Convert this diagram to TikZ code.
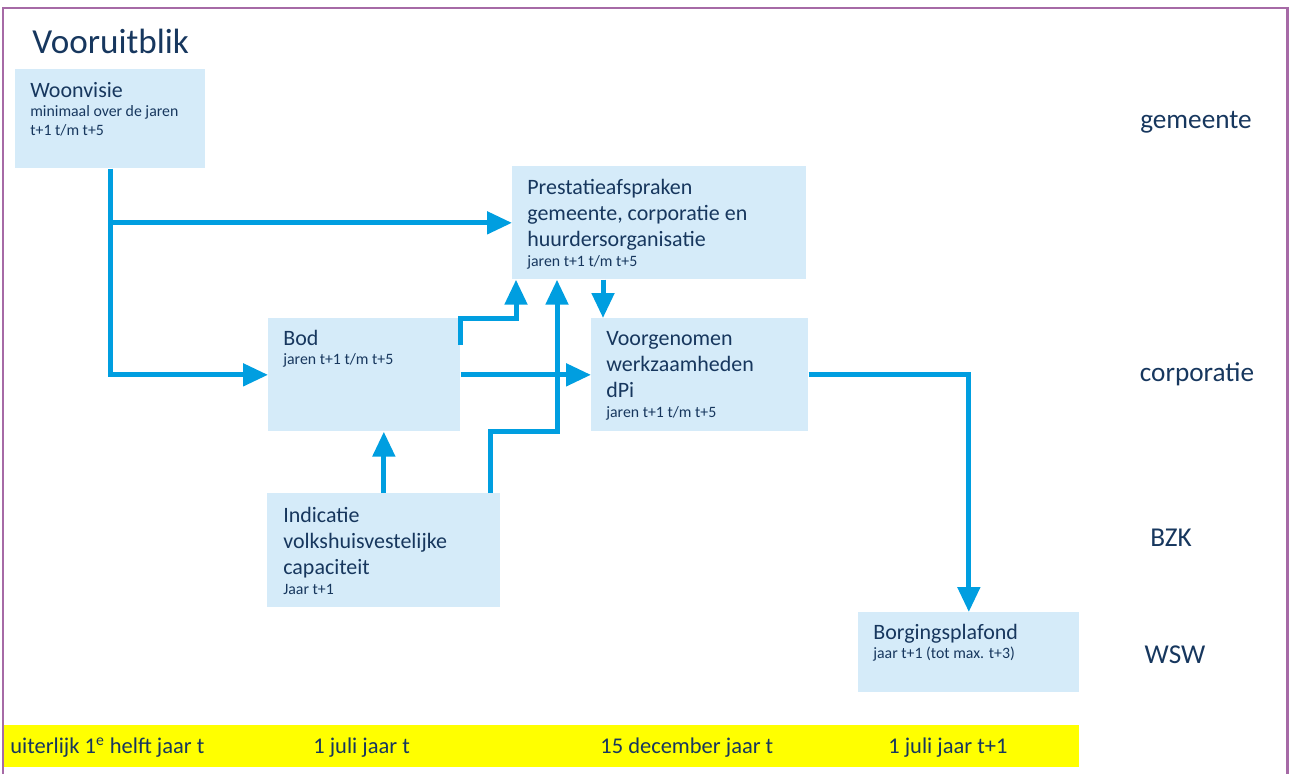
\documentclass[tikz,border=0pt]{standalone}
\usepackage{fontspec}
\setmainfont{Carlito}
\usetikzlibrary{arrows.meta,calc,positioning}
\definecolor{boxblue}{RGB}{213,235,249}
\definecolor{flowblue}{RGB}{0,158,224}
\definecolor{inkblue}{RGB}{23,55,94}
\definecolor{framepurple}{RGB}{166,106,166}
\definecolor{baryellow}{RGB}{255,255,0}
\newcommand{\boxhd}{\fontsize{12.5}{15}\selectfont}
\newcommand{\boxsm}{\fontsize{9}{11}\selectfont}
\newcommand{\plpar}[1]{\parbox[t]{6cm}{\raggedright #1}}
\tikzset{
  plbox/.style={fill=boxblue,inner sep=0pt,anchor=north west},
  pltext/.style={anchor=base west,inner sep=0pt,text=inkblue},
  flow/.style={-{Triangle[length=5mm,width=4.4mm]},line width=1mm,draw=flowblue},
  actor/.style={anchor=base,inner sep=0pt,text=inkblue,
    font=\fontsize{15.5}{18}\selectfont},
  datelbl/.style={anchor=base west,inner sep=0pt,text=inkblue,
    font=\fontsize{12.8}{15}\selectfont},
}

\begin{document}
\begin{tikzpicture}[x=0.02cm,y=-0.02cm]
  \useasboundingbox (0,0) rectangle (1293,774);
  \draw[framepurple,line width=0.6mm] (3,774) -- (3,8) -- (1287,8) -- (1287,774);
  \node[pltext,font=\fontsize{20}{24}\selectfont] (title) at (32,53) {Vooruitblik};

  % boxes
  \node[plbox,minimum width=3.8cm,minimum height=1.98cm] (woon) at (15,69) {};
  \node[plbox,minimum width=5.88cm,minimum height=2.26cm] (prest) at (512,166) {};
  \node[plbox,minimum width=3.84cm,minimum height=2.26cm] (bod) at (268,318) {};
  \node[plbox,minimum width=4.34cm,minimum height=2.26cm] (voorg) at (591,318) {};
  \node[plbox,minimum width=4.66cm,minimum height=2.28cm] (indic) at (267,493) {};
  \node[plbox,minimum width=4.42cm,minimum height=1.6cm] (borg) at (858,612) {};

  % box texts
  \node[pltext] (woon-t) at ($(woon.north west)+(15,28)$)
    {\plpar{\boxhd Woonvisie\par\boxsm minimaal over de jaren\par t+1 t/m t+5}};
  \node[pltext] (prest-t) at ($(prest.north west)+(15,28)$)
    {\plpar{\boxhd Prestatieafspraken\par gemeente, corporatie en\par
      huurdersorganisatie\par\boxsm jaren t+1 t/m t+5}};
  \node[pltext] (bod-t) at ($(bod.north west)+(15,27)$)
    {\plpar{\boxhd Bod\par\boxsm jaren t+1 t/m t+5}};
  \node[pltext] (voorg-t) at ($(voorg.north west)+(15,27)$)
    {\plpar{\boxhd Voorgenomen\par werkzaamheden\par dPi\par\boxsm jaren t+1 t/m t+5}};
  \node[pltext] (indic-t) at ($(indic.north west)+(16,29)$)
    {\plpar{\boxhd Indicatie\par volkshuisvestelijke\par capaciteit\par\boxsm Jaar t+1}};
  \node[pltext] (borg-t) at ($(borg.north west)+(15,27)$)
    {\plpar{\boxhd Borgingsplafond\par\boxsm jaar t+1 (tot max. t+3)}};

  % flows
  \draw[flow] (woon.south) |- (bod.west);
  \draw[flow] (woon.south |- prest.west) -- (prest.west);
  \coordinate (bodout) at ($(bod.north east)+(0,27)$);
  \coordinate (prestin1) at ($(prest.south west)+(4,0)$);
  \draw[flow] (bodout) |- (bod.north -| prestin1) -- (prestin1);
  \draw[flow] (bod.east) -- (voorg.west);
  \draw[flow] (indic.north) -- (indic.north |- bod.south);
  \coordinate (indicout) at ($(indic.north east)+(-10,0)$);
  \coordinate (prestin2) at ($(prest.south west)+(45,0)$);
  \draw[flow] (indicout) |- (bod.south -| prestin2) -- (prestin2);
  \coordinate (prestout) at ($(prest.south west)+(91,0)$);
  \draw[flow] (prestout) -- (prestout |- voorg.north);
  \draw[flow] (voorg.east) -| (borg.north);

  % actors
  \node[actor] (gem) at (1196,128) {gemeente};
  \node[actor] (corp) at (1197,381) {corporatie};
  \node[actor] (bzk) at (1171,546) {BZK};
  \node[actor] (wsw) at (1175,663) {WSW};

  % time line
  \node[plbox,fill=baryellow,minimum width=21.5cm,minimum height=0.84cm] (bar) at (4,725) {};
  \foreach \x/\t [count=\i] in {10/{uiterlijk 1\textsuperscript{e} helft jaar t},
      313/{1 juli jaar t},600/{15 december jaar t},888/{1 juli jaar t+1}}
    \node[datelbl] (date\i) at (\x,753) {\t};
\end{tikzpicture}
\end{document}
